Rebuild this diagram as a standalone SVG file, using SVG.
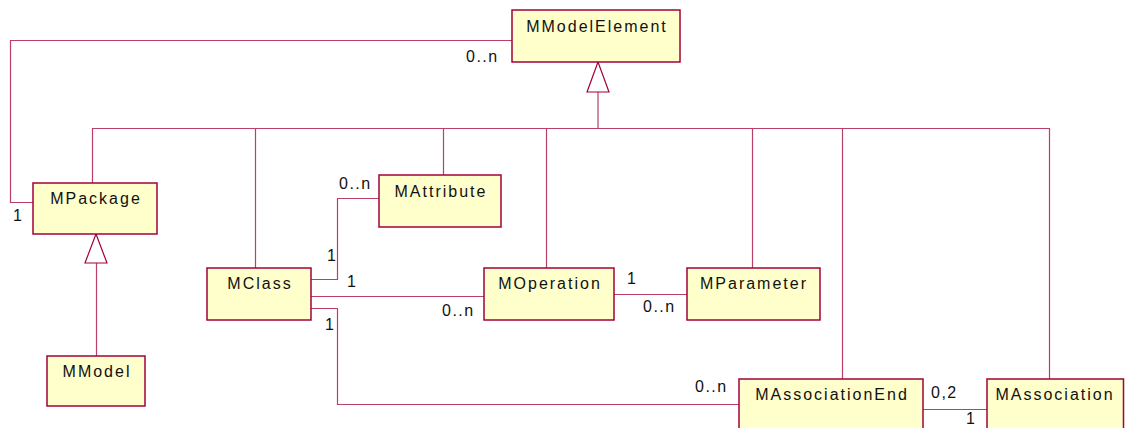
<svg xmlns="http://www.w3.org/2000/svg" width="1125" height="428" viewBox="0 0 1125 428">
  <style>
    .box { fill: #ffffcc; stroke: #a3003c; stroke-width: 1.5; }
    .name { font-family: "Liberation Sans", Arial, sans-serif; font-size: 16px; letter-spacing: 2px; fill: #111; text-anchor: middle; }
    .mult { font-family: "Liberation Sans", Arial, sans-serif; font-size: 16px; letter-spacing: 1.5px; fill: #111; }
    .ln { fill: none; stroke: #b8406a; stroke-width: 1.2; }
    .gen { fill: #ffffff; stroke: #a3003c; stroke-width: 1.2; }
  </style>
  <rect width="1125" height="428" fill="#ffffff"/>

  <!-- connectors -->
  <g id="connectors">
    <!-- inheritance bus from MModelElement -->
    <path class="ln" d="M598,92 V128.5 M92,128.5 H1049"/>
    <path class="ln" d="M92.5,128 V183 M255.5,128 V268 M443.5,128 V175 M546.5,128 V268 M752.5,128 V268 M842.5,128 V379 M1049.5,128 V379"/>
    <polygon class="gen" points="598,62 587,92 609,92"/>
    <!-- MPackage contains MModelElement -->
    <path class="ln" d="M512,40.5 H10.5 V202.5 H33"/>
    <!-- MModel specialises MPackage -->
    <path class="ln" d="M96.5,263 V356"/>
    <polygon class="gen" points="96,234 85,263 107,263"/>
    <!-- MClass associations -->
    <path class="ln" d="M311,279.5 H337.5 V198.5 H379"/>
    <path class="ln" d="M311,296.5 H484"/>
    <path class="ln" d="M311,308.5 H337.5 V404.5 H739"/>
    <path class="ln" d="M614,294.5 H687"/>
    <path class="ln" d="M923,409.5 H987"/>
  </g>

  <!-- multiplicities -->
  <g id="labels">
    <text class="mult" x="466" y="62">0..n</text>
    <text class="mult" x="13" y="221">1</text>
    <text class="mult" x="339" y="189">0..n</text>
    <text class="mult" x="327" y="261">1</text>
    <text class="mult" x="347" y="287">1</text>
    <text class="mult" x="442" y="316">0..n</text>
    <text class="mult" x="325" y="330">1</text>
    <text class="mult" x="627" y="284">1</text>
    <text class="mult" x="643" y="312">0..n</text>
    <text class="mult" x="695" y="392">0..n</text>
    <text class="mult" x="931" y="398">0,2</text>
    <text class="mult" x="966" y="424">1</text>
  </g>

  <g id="MModelElement">
    <rect class="box" x="512" y="10" width="168" height="52"/>
    <text class="name" x="597" y="32">MModelElement</text>
  </g>
  <g id="MPackage">
    <rect class="box" x="33" y="183" width="124" height="51"/>
    <text class="name" x="96" y="204">MPackage</text>
  </g>
  <g id="MModel">
    <rect class="box" x="47" y="356" width="98" height="50"/>
    <text class="name" x="97" y="377">MModel</text>
  </g>
  <g id="MClass">
    <rect class="box" x="207" y="268" width="104" height="52"/>
    <text class="name" x="260" y="289">MClass</text>
  </g>
  <g id="MAttribute">
    <rect class="box" x="379" y="175" width="122" height="52"/>
    <text class="name" x="441" y="197">MAttribute</text>
  </g>
  <g id="MOperation">
    <rect class="box" x="484" y="268" width="130" height="52"/>
    <text class="name" x="550" y="289">MOperation</text>
  </g>
  <g id="MParameter">
    <rect class="box" x="687" y="268" width="133" height="52"/>
    <text class="name" x="754" y="289">MParameter</text>
  </g>
  <g id="MAssociationEnd">
    <rect class="box" x="739" y="379" width="184" height="60"/>
    <text class="name" x="832" y="400">MAssociationEnd</text>
  </g>
  <g id="MAssociation">
    <rect class="box" x="987" y="379" width="136.5" height="60"/>
    <text class="name" x="1055" y="400">MAssociation</text>
  </g>
</svg>
